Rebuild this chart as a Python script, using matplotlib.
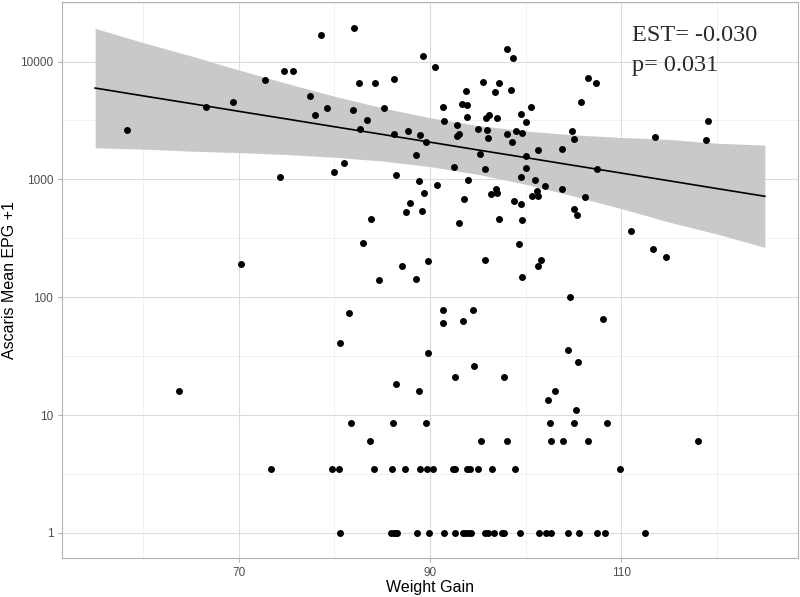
"""Ascaris EPG vs weight gain, log-scale scatter with model fit."""

import matplotlib

matplotlib.use("Agg")
import matplotlib.pyplot as plt
from matplotlib.ticker import FixedLocator, NullFormatter

plt.rcParams["font.family"] = ["Liberation Sans", "DejaVu Sans"]

# scattered points (weight gain, mean EPG + 1)
weight_gain_hi = [58.3, 66.6, 69.4, 72.8, 74.7, 75.7, 74.3, 77.5, 78.0, 78.6,
                  79.2, 80.0, 81.0, 82.0, 82.1, 82.6, 82.7, 83.4, 84.3, 85.2,
                  86.2, 86.2, 86.4, 87.7, 88.5, 88.9, 89.0, 89.3, 89.6, 90.5,
                  90.7, 91.4, 91.5, 92.5, 92.8, 92.8, 93.0, 93.3, 93.8, 93.9,
                  93.9, 94.0, 95.0, 95.2, 95.5, 95.8, 95.9, 96.0, 96.1, 96.2,
                  96.8, 97.0, 97.2, 98.0, 98.0, 98.5, 98.6, 98.7, 99.0, 99.5,
                  99.5, 99.6, 100.0, 100.0, 100.0, 100.6, 101.0, 101.3, 102.0, 103.8,
                  103.8, 104.8, 105.0, 105.8, 106.2, 106.5, 107.3, 107.5, 113.5, 118.8,
                  119.1]
epg_hi = [2600, 4120, 4570, 6920, 8250, 8250, 1050, 5070, 3530, 16900,
          4020, 1160, 1380, 3870, 19300, 6560, 2700, 3200, 6560, 4070,
          7090, 2430, 1080, 2560, 1600, 970, 2370, 11250, 2060, 9060,
          900, 4120, 3100, 1280, 2880, 2330, 2430, 4340, 5590, 4280,
          3400, 990, 2680, 1640, 6700, 1220, 3330, 2600, 2230, 3550,
          5470, 3350, 6560, 12800, 2410, 5700, 2080, 10700, 2570, 3600,
          1045, 2500, 3040, 1580, 1260, 4120, 980, 1760, 880, 1800,
          825, 2570, 2210, 4540, 706, 7320, 6530, 1220, 2280, 2180,
          3100]

weight_gain_lo = [89.4, 87.9, 87.5, 89.2, 83.8, 93.6, 93.0, 96.4, 96.9, 97.0,
                  97.2, 100.7, 101.2, 101.3, 98.8, 99.5, 105.1, 105.4, 99.6, 99.3,
                  101.6, 101.3, 99.6, 83.0, 89.8, 87.1, 84.7, 88.5, 95.8, 70.2,
                  111.0, 113.3, 114.7, 104.6, 108.1, 104.4, 105.5, 97.7, 81.5, 91.4,
                  94.5, 91.4, 93.5, 80.6, 89.8, 94.6, 92.6, 86.4, 88.8, 63.8,
                  81.7, 86.1, 89.6, 83.7, 95.3, 102.3, 103.1, 105.3, 102.5, 105.0,
                  108.5, 98.0, 102.7, 103.9, 106.5, 118.0]
epg_lo = [767, 631, 530, 544, 465, 687, 428, 757, 834, 772,
          465, 720, 790, 720, 655, 623, 565, 503, 450, 283,
          208, 183, 148, 290, 203, 183, 140, 143, 206, 190,
          368, 258, 218, 101, 66, 36, 28, 21, 73, 78,
          78, 61, 63.5, 41, 33.4, 26, 21, 18.5, 16, 16,
          8.5, 8.5, 8.5, 6, 6, 13.5, 16, 11, 8.5, 8.5,
          8.5, 6, 6, 6, 6, 6]

# rows of tied values
weight_gain_3p5 = [73.4, 79.8, 80.5, 84.1, 86.0, 87.4, 89.0, 89.7, 90.3, 92.4,
                   92.6, 93.9, 94.2, 95.0, 96.5, 98.9, 109.9]
weight_gain_1 = [80.6, 85.9, 86.2, 86.4, 86.6, 88.6, 89.9, 91.5, 92.6, 93.4,
                 93.7, 94.0, 94.3, 95.8, 96.1, 96.7, 97.5, 97.7, 99.4, 101.4,
                 102.1, 102.7, 104.4, 105.6, 107.5, 108.3, 112.5]

# fitted line and 95% band
fit_x = [55, 60, 65, 70, 75, 80, 85, 90, 95, 100, 105, 110, 115, 120, 125]
fit_epg = [5957, 5117, 4406, 3784, 3258, 2799, 2410, 2070, 1778, 1531, 1315, 1132, 973, 836, 719]
band_hi = [19140, 14490, 11170, 8492, 6531, 5082, 4055, 3334, 2864, 2576, 2388, 2270, 2183, 2028, 1954]
band_lo = [1854, 1807, 1738, 1687, 1626, 1542, 1432, 1285, 1104, 910, 724, 565, 434, 344, 265]

x_major = [70, 90, 110]
x_minor = [60, 80, 100, 120]
y_major = [1, 10, 100, 1000, 10000]
y_labels = ["1", "10", "100", "1000", "10000"]

x = weight_gain_hi + weight_gain_lo + weight_gain_3p5 + weight_gain_1
y = epg_hi + epg_lo + [3.5] * len(weight_gain_3p5) + [1] * len(weight_gain_1)

fig = plt.figure(figsize=(8, 5.97), dpi=100)
ax = fig.add_axes([0.0771, 0.0648, 0.9208, 0.9318])

ax.fill_between(fit_x, band_lo, band_hi, color="#c9c9c9", lw=0, zorder=2)
ax.plot(fit_x, fit_epg, color="black", lw=1.2, zorder=3)
ax.scatter(x, y, s=25, color="black", lw=0, zorder=4)

ax.set_yscale("log")
ax.set_xlim(51.5, 128.5)
ax.set_ylim(10 ** -0.215, 10 ** 4.505)
ax.xaxis.set_major_locator(FixedLocator(x_major))
ax.xaxis.set_minor_locator(FixedLocator(x_minor))
ax.yaxis.set_major_locator(FixedLocator(y_major))
ax.yaxis.set_minor_locator(FixedLocator([10 ** (k + 0.5) for k in range(-1, 5)]))
ax.yaxis.set_minor_formatter(NullFormatter())
ax.set_yticklabels(y_labels)

ax.grid(which="major", color="#dcdcdc", lw=0.8, zorder=0)
ax.grid(which="minor", color="#ececec", lw=0.5, zorder=0)
ax.set_axisbelow(True)
for sp in ax.spines.values():
    sp.set_color("#b3b3b3")
    sp.set_linewidth(0.8)
ax.tick_params(which="major", length=3, color="#b3b3b3", labelsize=8.5, labelcolor="#4d4d4d", pad=3)
ax.tick_params(which="minor", length=0)

ax.set_xlabel("Weight Gain", fontsize=11.5, labelpad=1)
ax.set_ylabel("Ascaris Mean EPG +1", fontsize=11.5, labelpad=2)

ax.text(0.774, 0.93, "EST= -0.030", transform=ax.transAxes, family="Liberation Serif",
        fontsize=17.5, color="#2a2a2a")
ax.text(0.774, 0.876, "p= 0.031", transform=ax.transAxes, family="Liberation Serif",
        fontsize=17.5, color="#2a2a2a")

fig.savefig("out.png", dpi=100)
plt.close(fig)
